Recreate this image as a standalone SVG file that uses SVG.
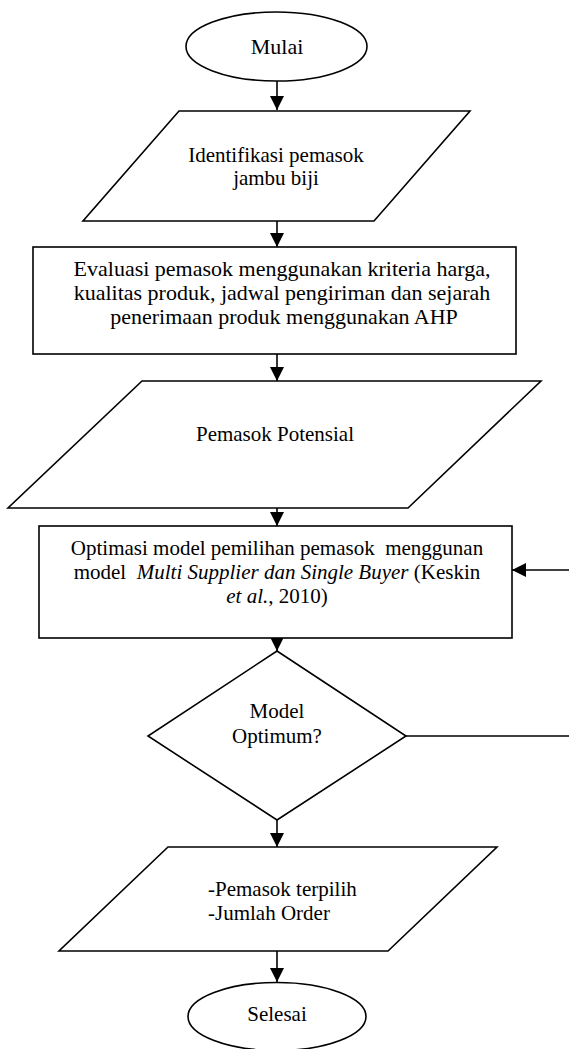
<svg xmlns="http://www.w3.org/2000/svg" width="569" height="1049" viewBox="0 0 569 1049">
<style>
.s{fill:#fff;stroke:#000;stroke-width:1.6}
.c{fill:none;stroke:#000;stroke-width:1.6}
text{font-family:"Liberation Serif","Times New Roman",serif;font-size:21px;fill:#000;white-space:pre}
.m{text-anchor:middle}
.i{font-style:italic}
.b{font-size:22px}
</style>
<defs>
<marker id="ah" markerUnits="userSpaceOnUse" markerWidth="14" markerHeight="14" refX="14" refY="7" orient="auto">
<path d="M0,0 L14,7 L0,14 z" fill="#000"/>
</marker>
</defs>
<g id="connectors">
<line class="c" x1="277" y1="81" x2="277" y2="110" marker-end="url(#ah)"/>
<line class="c" x1="277" y1="221" x2="277" y2="247" marker-end="url(#ah)"/>
<line class="c" x1="277" y1="354" x2="277" y2="381" marker-end="url(#ah)"/>
<line class="c" x1="277" y1="508" x2="277" y2="526" marker-end="url(#ah)"/>
<line class="c" x1="277" y1="638" x2="277" y2="651" marker-end="url(#ah)"/>
<line class="c" x1="277" y1="820" x2="277" y2="847" marker-end="url(#ah)"/>
<line class="c" x1="277" y1="951" x2="277" y2="982" marker-end="url(#ah)"/>
<line class="c" x1="406" y1="736" x2="569" y2="736"/>
<line class="c" x1="569" y1="570" x2="512" y2="570" marker-end="url(#ah)"/>
</g>
<g id="mulai">
<ellipse class="s" cx="276.5" cy="46.5" rx="90.5" ry="34.5"/>
<text class="m b" x="277" y="54">Mulai</text>
</g>
<g id="identifikasi">
<polygon class="s" points="179,111 470,111 374,221 83,221"/>
<text class="m" x="276" y="162">Identifikasi pemasok</text>
<text class="m" x="276" y="185">jambu biji</text>
</g>
<g id="evaluasi">
<rect class="s" x="33" y="247" width="483" height="107"/>
<text class="m b" x="282" y="276">Evaluasi pemasok menggunakan kriteria harga,</text>
<text class="m b" x="282" y="300">kualitas produk, jadwal pengiriman dan sejarah</text>
<text class="m b" x="284" y="324">penerimaan produk menggunakan AHP</text>
</g>
<g id="potensial">
<polygon class="s" points="142,381 541,381 408,508 8,508"/>
<text class="m" x="275" y="441">Pemasok Potensial</text>
</g>
<g id="optimasi">
<rect class="s" x="39" y="526" width="473" height="112"/>
<text class="m" x="277" y="555">Optimasi model pemilihan pemasok  menggunan</text>
<text class="m" x="277" y="579">model  <tspan class="i">Multi Supplier dan Single Buyer</tspan> (Keskin</text>
<text class="m" x="277" y="603"><tspan class="i">et al.</tspan>, 2010)</text>
</g>
<g id="optimum">
<polygon class="s" points="277,651 406,736 277,820 148,736"/>
<text class="m" x="277" y="718">Model</text>
<text class="m" x="277" y="743">Optimum?</text>
</g>
<g id="hasil">
<polygon class="s" points="168,847 497,847 388,951 59,951"/>
<text x="208" y="896">-Pemasok terpilih</text>
<text x="208" y="920">-Jumlah Order</text>
</g>
<g id="selesai">
<ellipse class="s" cx="277" cy="1016.5" rx="89" ry="34"/>
<text class="m" x="277" y="1021">Selesai</text>
</g>
</svg>
